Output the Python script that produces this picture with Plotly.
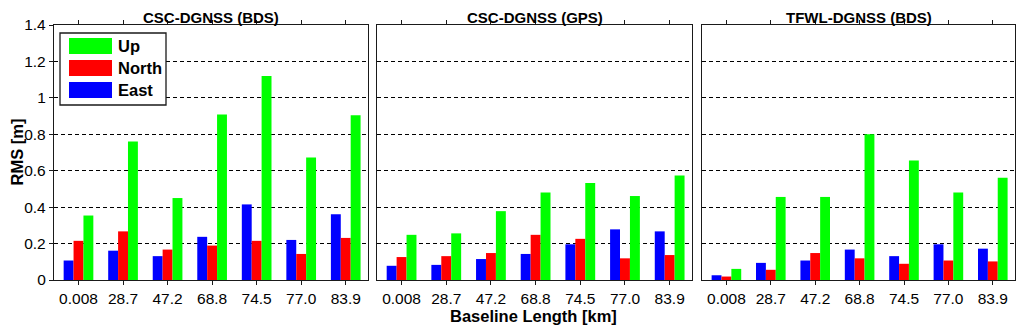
import plotly.graph_objects as go

baselines = ["0.008", "28.7", "47.2", "68.8", "74.5", "77.0", "83.9"]
panel_titles = ["CSC-DGNSS (BDS)", "CSC-DGNSS (GPS)", "TFWL-DGNSS (BDS)"]

csc_bds_east = [0.107, 0.161, 0.131, 0.237, 0.415, 0.220, 0.361]
csc_bds_north = [0.215, 0.267, 0.167, 0.189, 0.215, 0.143, 0.231]
csc_bds_up = [0.354, 0.761, 0.450, 0.909, 1.120, 0.672, 0.904]

csc_gps_east = [0.078, 0.083, 0.115, 0.143, 0.196, 0.278, 0.267]
csc_gps_north = [0.126, 0.131, 0.148, 0.248, 0.226, 0.119, 0.137]
csc_gps_up = [0.248, 0.256, 0.378, 0.480, 0.533, 0.461, 0.574]

tfwl_bds_east = [0.026, 0.094, 0.107, 0.167, 0.131, 0.196, 0.172]
tfwl_bds_north = [0.019, 0.056, 0.148, 0.119, 0.089, 0.107, 0.102]
tfwl_bds_up = [0.061, 0.456, 0.456, 0.800, 0.656, 0.480, 0.561]

components = ["East", "North", "Up"]
colors = {"East": "#0000ff", "North": "#ff0000", "Up": "#00ff00"}

panels = [
    {"East": csc_bds_east, "North": csc_bds_north, "Up": csc_bds_up},
    {"East": csc_gps_east, "North": csc_gps_north, "Up": csc_gps_up},
    {"East": tfwl_bds_east, "North": tfwl_bds_north, "Up": tfwl_bds_up},
]

# the page body adds an 8px margin, so the figure is a bit smaller
# and every window pixel position gets shifted back by that much
OFF = 8
W, H = 1024 - OFF, 332 - OFF


def px(x):
    return (x - OFF) / W


def py(y):
    return 1 - (y - OFF) / H


# window pixel boxes of the three axes (left, right)
x_boxes = [(54, 368), (377, 692), (702, 1015)]
y_top, y_bottom = 25, 280
y_dom = [py(y_bottom), py(y_top)]

font_family = "Liberation Sans, Arial, sans-serif"

fig = go.Figure()

for i, data in enumerate(panels):
    n = "" if i == 0 else str(i + 1)
    for comp in components:
        fig.add_trace(go.Bar(
            x=baselines, y=data[comp], name=comp,
            marker=dict(color=colors[comp], line=dict(width=0)),
            xaxis="x" + n, yaxis="y" + n, showlegend=False,
        ))
    left, right = x_boxes[i]
    fig.update_layout(**{
        "xaxis" + n: dict(
            domain=[px(left), px(right)], type="category",
            range=[-0.55, 6.5], anchor="y" + n, automargin=False,
            showline=True, linecolor="#1a1a1a", linewidth=1.3, mirror="ticks",
            ticks="outside", ticklen=4, tickcolor="#1a1a1a",
            tickfont=dict(size=15.5, color="black"), showgrid=False,
        ),
        "yaxis" + n: dict(
            domain=y_dom, range=[0, 1.4], dtick=0.2, anchor="x" + n, automargin=False,
            showline=True, linecolor="#1a1a1a", linewidth=1.3, mirror=True,
            ticks="outside" if i == 0 else "", ticklen=4, tickcolor="#1a1a1a",
            showticklabels=(i == 0),
            tickfont=dict(size=15.5, color="black"),
            showgrid=True, gridcolor="black", gridwidth=1, griddash="4px,3px",
            zeroline=False,
        ),
    })
    fig.add_annotation(
        text=f"<b>{panel_titles[i]}</b>", x=px((left + right) / 2), y=py(17),
        xref="paper", yref="paper", xanchor="center", yanchor="middle",
        borderpad=0, showarrow=False, font=dict(size=15, color="black"),
    )

# legend box drawn by hand (wide swatches like the original)
fig.add_shape(type="rect", xref="paper", yref="paper",
              x0=px(60), x1=px(166), y0=py(105), y1=py(33),
              line=dict(color="#1a1a1a", width=1.3), fillcolor="white", layer="above")
legend_rows = [("Up", 38, 54), ("North", 60, 76), ("East", 82, 98)]
for name, top, bot in legend_rows:
    fig.add_shape(type="rect", xref="paper", yref="paper",
                  x0=px(69), x1=px(112), y0=py(bot), y1=py(top),
                  line=dict(width=0), fillcolor=colors[name], layer="above")
    fig.add_annotation(text=f"<b>{name}</b>", x=px(116), y=py((top + bot) / 2),
                       xref="paper", yref="paper", xanchor="left", yanchor="middle",
                       showarrow=False, font=dict(size=16.5, color="black"))

fig.add_annotation(text="<b>Baseline Length [km]</b>", x=px(533), y=py(316),
                   xref="paper", yref="paper", xanchor="center", yanchor="middle",
                   showarrow=False, font=dict(size=16.5, color="black"))
fig.add_annotation(text="<b>RMS [m]</b>", x=px(16), y=py((y_top + y_bottom) / 2),
                   xref="paper", yref="paper", xanchor="center", yanchor="middle",
                   showarrow=False, textangle=-90,
                   font=dict(size=16.5, color="black"))

fig.update_layout(
    template="none",
    width=W, height=H,
    margin=dict(l=0, r=0, t=0, b=0, pad=0),
    paper_bgcolor="white", plot_bgcolor="white",
    bargap=1 / 3, bargroupgap=0, barmode="group",
    font=dict(family=font_family, color="black"),
)

fig.write_html("out.html")
